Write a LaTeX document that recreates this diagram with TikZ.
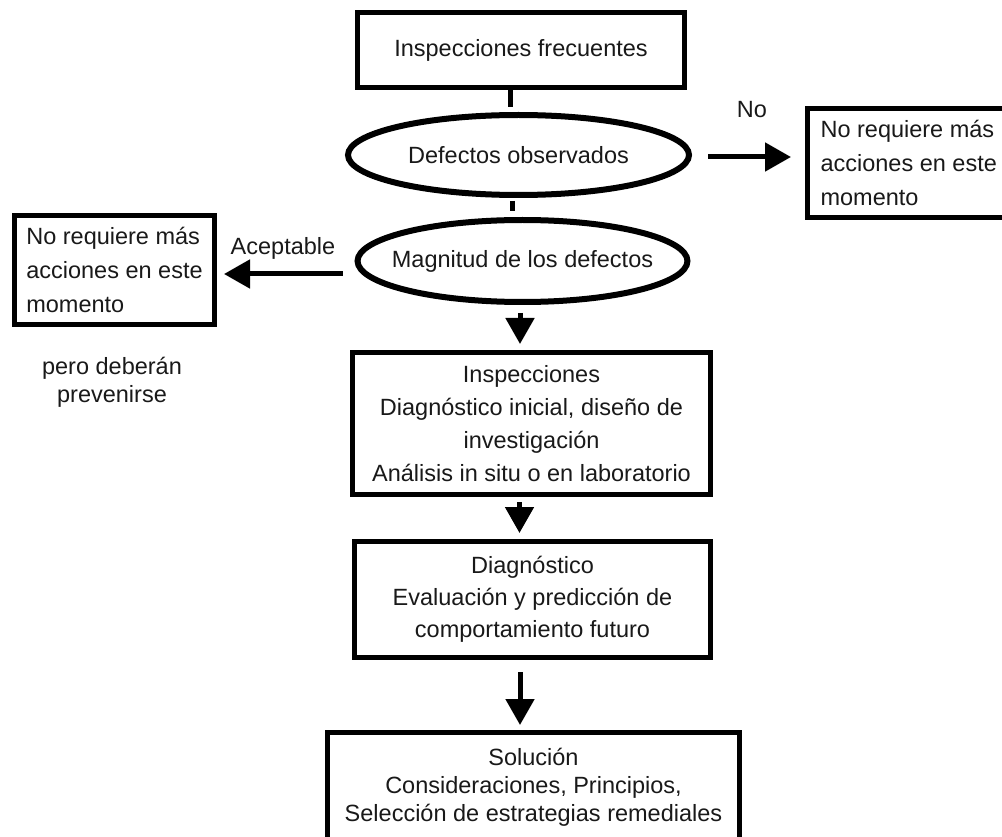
\documentclass[tikz,border=0pt]{standalone}
\usepackage{fontspec}
\setmainfont{Liberation Sans}
\usetikzlibrary{shapes.geometric,arrows.meta}
\begin{document}
\begin{tikzpicture}[x=1pt,y=-1pt,
  txt/.style={font=\fontsize{23.5}{34}\selectfont, text=black!90},
  box/.style={txt, draw=black, line width=5pt, inner sep=0pt, align=center},
  oval/.style={txt, draw=black, ellipse, line width=6pt, inner sep=0pt},
  link/.style={line width=5pt},
  arr/.style={line width=5pt, -{Triangle[width=28pt,length=26pt]}}]
\useasboundingbox (0,0) rectangle (1002,837);
\fill[white] (0,0) rectangle (1002,837);

\node[box, minimum width=327pt, minimum height=75pt] (top) at (521,50) {Inspecciones frecuentes};
\node[oval, minimum width=341pt, minimum height=80pt] (e1) at (518.5,155) {Defectos observados};
\node[oval, inner xsep=-14pt, minimum width=329pt, minimum height=82pt] (e2) at (522.5,261) {Magnitud de los defectos};

\node[box, align=left, minimum width=202.5pt, minimum height=109pt] (rbox) at (908.75,163)
  {No requiere más\\acciones en este\\momento};
\node[box, align=left, minimum width=200pt, minimum height=109pt] (lbox) at (114.5,270)
  {No requiere más\\acciones en este\\momento};

\node[box, font=\fontsize{23.5}{33}\selectfont, minimum width=358pt, minimum height=142pt] (insp) at (531.5,423.5)
  {Inspecciones\\ Diagnóstico inicial, diseño de\\investigación\\Análisis in situ o en laboratorio};
\node[box, font=\fontsize{23.5}{32}\selectfont, minimum width=356pt, minimum height=116pt] (diag) at (532.5,599.5)
  {Diagnóstico\\ Evaluación y predicción de\\comportamiento futuro};
\node[box, font=\fontsize{23.5}{28}\selectfont, minimum width=412pt, minimum height=109pt] (sol) at (533.5,787)
  {Solución\\Consideraciones, Principios,\\Selección de estrategias remediales};

\node[txt] (no) at (752,110) {No};
\node[txt] (acep) at (283,248) {Aceptable};
\node[txt, align=center, font=\fontsize{23.5}{28}\selectfont] (pero) at (112,382) {pero deberán\\prevenirse};

\draw[link, shorten >=5pt] ([xshift=-11pt]top.south) -- ([xshift=-11pt]top.south |- e1.north);
\draw[link, shorten <=3pt, shorten >=6pt] ([xshift=-6.5pt]e1.south) -- ([xshift=-6.5pt]e1.south |- e2.north);

\draw[arr, shorten <=8pt, shorten >=6pt] ([xshift=-2.5pt]e2.south) -- ([xshift=-2.5pt]e2.south |- insp.north);
\draw[arr, shorten <=5pt, shorten >=6pt] ([xshift=-12pt]insp.south) -- ([xshift=-12pt]insp.south |- diag.north);
\draw[arr, shorten <=12pt, shorten >=5pt] ([xshift=-12.5pt]diag.south) -- ([xshift=-12.5pt]diag.south |- sol.north);

\draw[arr, shorten <=16pt, shorten >=14pt] ([yshift=-2pt]e1.east) -- ([yshift=-2pt]e1.east -| rbox.west);
\draw[arr, shorten <=12pt, shorten >=7pt] ([yshift=-13pt]e2.west) -- ([yshift=-13pt]e2.west -| lbox.east);
\end{tikzpicture}
\end{document}
